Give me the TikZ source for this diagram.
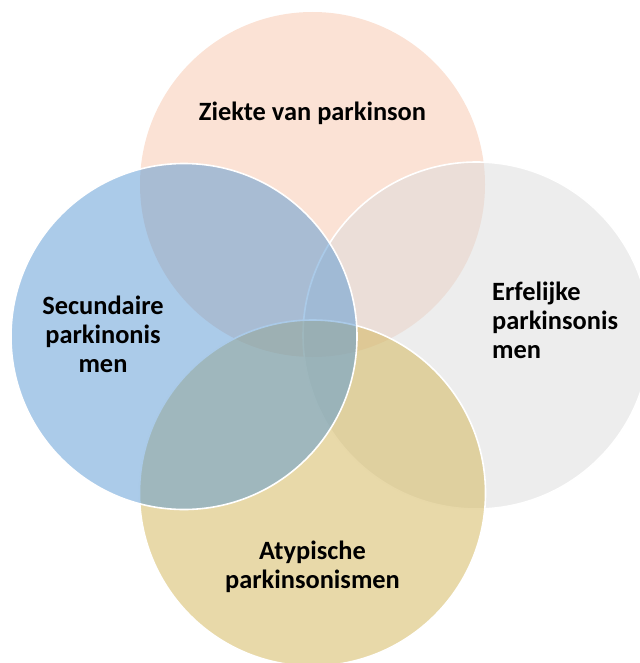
\documentclass[tikz,border=0pt]{standalone}
\usepackage{fontspec}
\setmainfont{Carlito}
\definecolor{cpeach}{RGB}{247,197,171}
\definecolor{cgrey}{RGB}{219,219,219}
\definecolor{cgold}{RGB}{209,179,83}
\definecolor{cblue}{RGB}{87,151,211}
\tikzset{
  venn/.style={circle, inner sep=0pt, fill=#1, fill opacity=0.5, draw=white, draw opacity=1, line width=1.6pt},
  lbl/.style={inner sep=0pt, text=black, font=\bfseries\fontsize{26.4}{29}\selectfont, anchor=base}
}
\begin{document}
\begin{tikzpicture}[x=1pt,y=-1pt]
\useasboundingbox (0,0) rectangle (639,663);
\node[venn=cpeach, draw=none, minimum size=345pt] (top) at (312.5,184.5) {};
\node[venn=cgrey, minimum size=347pt] (right) at (476.5,335.5) {};
\node[venn=cgold, minimum size=346pt] (bottom) at (312.5,493) {};
\node[venn=cblue, minimum size=346pt] (left) at (184,336.5) {};
\node[lbl] (tt) at (312.5,121) {Ziekte van parkinson};
\node[lbl, align=left, anchor=base west] (rt) at (492,358) {Erfelijke\\parkinsonis\\men};
\node[lbl, align=center] (lt) at (103,372) {Secundaire\\parkinonis\\men};
\node[lbl, align=center] (bt) at (312.5,588) {Atypische\\parkinsonismen};
\end{tikzpicture}
\end{document}
